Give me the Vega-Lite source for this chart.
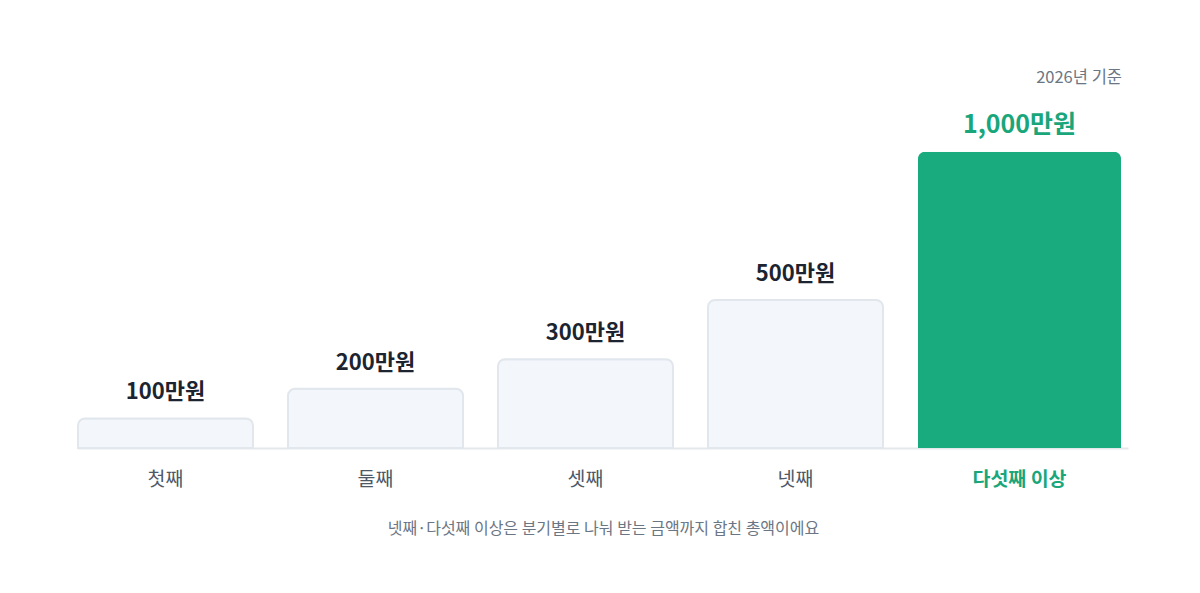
{
  "$schema": "https://vega.github.io/schema/vega-lite/v6.json",
  "autosize": {"type": "none"},
  "padding": {"left": 78, "top": 100, "right": 72, "bottom": 145},
  "width": 1050,
  "height": 348,
  "background": "#ffffff",
  "title": {
    "text": "2026년 기준",
    "anchor": "end",
    "fontSize": 16.5,
    "fontWeight": "normal",
    "color": "#6B7684",
    "font": "Noto Sans CJK KR",
    "dx": -6,
    "offset": 14
  },
  "data": {
    "values": [
      {"순서": "첫째", "금액": 100, "표시": "100만원"},
      {"순서": "둘째", "금액": 200, "표시": "200만원"},
      {"순서": "셋째", "금액": 300, "표시": "300만원"},
      {"순서": "넷째", "금액": 500, "표시": "500만원"},
      {"순서": "다섯째 이상", "금액": 1000, "표시": "1,000만원"}
    ]
  },
  "encoding": {
    "x": {
      "field": "순서",
      "type": "nominal",
      "sort": null,
      "scale": {"paddingInner": 0, "paddingOuter": 0, "align": 0},
      "axis": {
        "title": "넷째·다섯째 이상은 분기별로 나눠 받는 금액까지 합친 총액이에요",
        "titleFont": "Noto Sans CJK KR",
        "titleFontSize": 16,
        "titleFontWeight": "normal",
        "titleColor": "#6B7684",
        "titlePadding": 32,
        "labelAngle": 0,
        "labelFont": "Noto Sans CJK KR",
        "labelFontSize": 19.5,
        "labelPadding": 22,
        "labelColor": {"condition": {"test": "datum.value === '다섯째 이상'", "value": "#19A67B"}, "value": "#4E5968"},
        "labelFontWeight": {"condition": {"test": "datum.value === '다섯째 이상'", "value": "bold"}, "value": "normal"},
        "labelOffset": {"condition": {"test": "datum.value === '다섯째 이상'", "value": -3.5}, "value": -17.5},
        "ticks": false,
        "grid": false,
        "domainColor": "#E5E8EB",
        "domainWidth": 2
      }
    },
    "y": {
      "field": "금액",
      "type": "quantitative",
      "scale": {"domain": [0, 1175], "nice": false},
      "axis": null
    }
  },
  "layer": [
    {
      "transform": [{"filter": "datum['순서'] !== '다섯째 이상'"}],
      "layer": [
        {
          "mark": {
            "type": "bar",
            "width": 175,
            "xOffset": -17.5,
            "fill": "#F3F6FA",
            "stroke": "#E2E7ED",
            "strokeWidth": 2,
            "cornerRadiusTopLeft": 7,
            "cornerRadiusTopRight": 7
          }
        },
        {
          "mark": {
            "type": "text",
            "xOffset": -17.5,
            "dy": -26,
            "baseline": "middle",
            "font": "Noto Sans CJK KR",
            "fontSize": 22,
            "fontWeight": "bold",
            "color": "#1B2430"
          },
          "encoding": {"text": {"field": "표시"}}
        }
      ]
    },
    {
      "transform": [{"filter": "datum['순서'] === '다섯째 이상'"}],
      "layer": [
        {
          "mark": {
            "type": "bar",
            "width": 203,
            "xOffset": -3.5,
            "fill": "#19AB7E",
            "cornerRadiusTopLeft": 7,
            "cornerRadiusTopRight": 7
          }
        },
        {
          "mark": {
            "type": "text",
            "xOffset": -3.5,
            "dy": -27,
            "baseline": "middle",
            "font": "Noto Sans CJK KR",
            "fontSize": 25,
            "fontWeight": "bold",
            "color": "#19A67B"
          },
          "encoding": {"text": {"field": "표시"}}
        }
      ]
    }
  ],
  "config": {"view": {"stroke": null}}
}
